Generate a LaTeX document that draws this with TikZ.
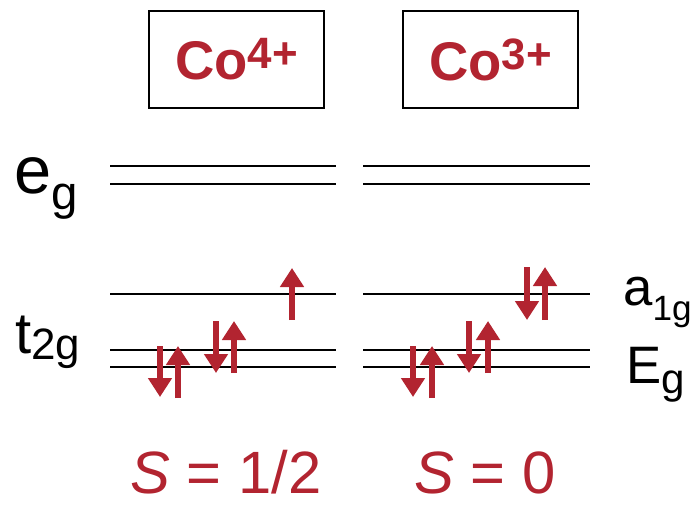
\documentclass[tikz,border=0pt]{standalone}
\usepackage{fontspec}
\setmainfont{Liberation Sans}
\usetikzlibrary{arrows.meta}
\definecolor{spin-red}{RGB}{178,36,48}

\begin{document}
\begin{tikzpicture}[x=0.02cm, y=-0.02cm,
    level/.style={line width=1.1pt},
    spin/.style={spin-red, line width=2.9pt, -{Triangle[length=0.38cm,width=0.46cm]}},
    ion/.style={draw, line width=1.2pt, minimum width=3.5cm, minimum height=1.94cm, inner sep=0pt,
        text=spin-red, font=\fontsize{31}{36}\selectfont\bfseries},
    term/.style={anchor=base west, inner sep=0pt}]
    \useasboundingbox (0,0) rectangle (692,504);

    % Ion boxes
    \node[ion] (co4) at (236.5,59.5) {Co\raisebox{0.2em}{\fontsize{25}{30}\selectfont 4+}};
    \node[ion] (co3) at (490.5,59.5) {Co\raisebox{0.2em}{\fontsize{25}{30}\selectfont 3+}};

    % e_g levels
    \draw[level] (110,166) -- (336,166);
    \draw[level] (110,184) -- (336,184);
    \draw[level] (363,166) -- (590,166);
    \draw[level] (363,184) -- (590,184);

    % t_2g levels: a_1g on top, E_g pair below
    \draw[level] (110,294) -- (336,294);
    \draw[level] (110,350) -- (336,350);
    \draw[level] (110,367) -- (336,367);
    \draw[level] (363,294) -- (590,294);
    \draw[level] (363,350) -- (590,350);
    \draw[level] (363,367) -- (590,367);

    % Co4+ electrons
    \draw[spin] (160,346) -- (160,397);
    \draw[spin] (178,398) -- (178,346);
    \draw[spin] (216,321) -- (216,373);
    \draw[spin] (234,373) -- (234,321);
    \draw[spin] (292,320) -- (292,268);

    % Co3+ electrons
    \draw[spin] (413,346) -- (413,397);
    \draw[spin] (432,398) -- (432,346);
    \draw[spin] (469,321) -- (469,373);
    \draw[spin] (488,373) -- (488,321);
    \draw[spin] (527,267) -- (527,320);
    \draw[spin] (545,320) -- (545,267);

    % Level labels
    \node[term, font=\fontsize{38}{44}\selectfont] (eg) at (14,193) {e\raisebox{-0.25em}{\fontsize{27}{30}\selectfont g}};
    \node[term, font=\fontsize{33}{38}\selectfont] (t2g) at (15,353) {t\raisebox{-0.12em}{\fontsize{25}{30}\selectfont 2g}};
    \node[term, font=\fontsize{30}{36}\selectfont] (a1g) at (623,305) {a\raisebox{-0.3em}{\fontsize{20}{24}\selectfont 1g}};
    \node[term, font=\fontsize{30}{36}\selectfont] (Eg) at (626,383) {E\raisebox{-0.2em}{\fontsize{24}{28}\selectfont g}};

    % Spin values
    \node[term, text=spin-red, font=\fontsize{34}{40}\selectfont] (s4) at (130,493) {\textit{S} = 1/2};
    \node[term, text=spin-red, font=\fontsize{34}{40}\selectfont] (s3) at (414,493) {\textit{S} = 0};
\end{tikzpicture}
\end{document}
